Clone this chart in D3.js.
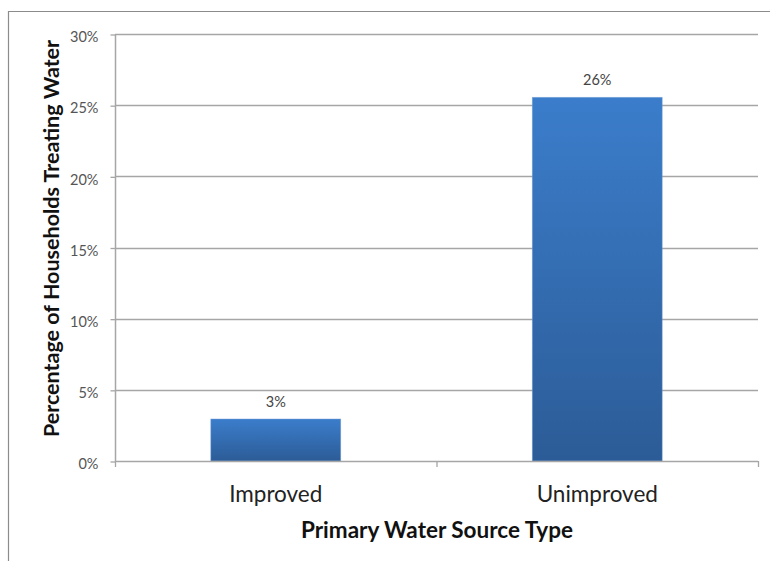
<!DOCTYPE html>
<html>
<head>
<meta charset="utf-8">
<script src="https://cdn.jsdelivr.net/npm/d3@7"></script>
<style>
  html, body { margin: 0; padding: 0; background: #fff; }
  svg { display: block; }
  text { font-family: Lato, "Open Sans", sans-serif; }
</style>
</head>
<body>
<svg id="chart" width="770" height="561"></svg>
<script>
// Share of households treating their drinking water, by source type
const categories = ["Improved", "Unimproved"];
const values = [0.0295, 0.2555];
const yTicks = [0, 0.05, 0.10, 0.15, 0.20, 0.25, 0.30];

const svg = d3.select("#chart");
const W = 770, H = 561;
const plot = { left: 115, right: 758, top: 34, bottom: 461 };

// outer chart frame (left and top edges visible)
svg.append("path")
  .attr("d", `M8.5,${H} V11.5 H${W}`)
  .attr("fill", "none").attr("stroke", "#8c8c8c").attr("stroke-width", 1.2);

const x = d3.scaleBand().domain(categories).range([plot.left, plot.right]).padding(0);
const y = d3.scaleLinear().domain([0, 0.30]).range([plot.bottom, plot.top]);

const defs = svg.append("defs");
const grad = defs.append("linearGradient").attr("id", "barFill")
  .attr("x1", 0).attr("y1", 0).attr("x2", 0).attr("y2", 1);
grad.append("stop").attr("offset", "0%").attr("stop-color", "#3b7dcb");
grad.append("stop").attr("offset", "100%").attr("stop-color", "#2c5c97");

// horizontal gridlines
svg.append("g").selectAll("line").data(yTicks.slice(1)).join("line")
  .attr("x1", plot.left).attr("x2", plot.right)
  .attr("y1", d => Math.round(y(d)) + 0.5).attr("y2", d => Math.round(y(d)) + 0.5)
  .attr("stroke", "#a6a6a6").attr("stroke-width", 1.3);

// y axis
const yAxis = d3.axisLeft(y).tickValues(yTicks).tickFormat(d3.format(".0%")).tickSize(5).tickPadding(12);
const gy = svg.append("g").attr("transform", `translate(${plot.left + 0.5},0.5)`).call(yAxis);
gy.select(".domain").attr("stroke", "#a6a6a6").attr("stroke-width", 1.5).attr("d", `M0,${plot.top}V${plot.bottom}`);
gy.selectAll(".tick line").attr("stroke", "#a6a6a6").attr("stroke-width", 1.3);
gy.selectAll(".tick text").attr("fill", "#555").style("font-size", "14.5px").attr("dy", "0.5em");

// bars
const barW = x.bandwidth() * 0.404;
svg.append("g").selectAll("rect").data(values).join("rect")
  .attr("x", (d, i) => x(categories[i]) + (x.bandwidth() - barW) / 2)
  .attr("width", barW)
  .attr("y", d => y(d))
  .attr("height", d => y(0) - y(d))
  .attr("fill", "url(#barFill)")
  .attr("stroke", "#6f9bd3").attr("stroke-width", 0.8).attr("stroke-opacity", 0.6);

// value labels
const pct = d3.format(".0%");
svg.append("g").selectAll("text").data(values).join("text")
  .attr("x", (d, i) => x(categories[i]) + x.bandwidth() / 2)
  .attr("y", d => y(d) - 12)
  .attr("text-anchor", "middle")
  .attr("fill", "#444").style("font-size", "14.5px")
  .text(d => pct(d));

// x axis with category-boundary ticks
const bounds = [plot.left, ...categories.map(c => x(c) + x.bandwidth())];
const gx = svg.append("g");
gx.append("line").attr("x1", plot.left).attr("x2", plot.right)
  .attr("y1", plot.bottom + 0.5).attr("y2", plot.bottom + 0.5)
  .attr("stroke", "#a6a6a6").attr("stroke-width", 1.5);
gx.selectAll("line.tk").data(bounds).join("line").attr("class", "tk")
  .attr("x1", d => d + 0.5).attr("x2", d => d + 0.5)
  .attr("y1", plot.bottom).attr("y2", plot.bottom + 6)
  .attr("stroke", "#a6a6a6").attr("stroke-width", 1.3);
gx.selectAll("text").data(categories).join("text")
  .attr("x", d => x(d) + x.bandwidth() / 2)
  .attr("y", 502)
  .attr("text-anchor", "middle")
  .attr("fill", "#222").style("font-size", "22.5px")
  .text(d => d);

// axis titles
svg.append("text")
  .attr("x", (plot.left + plot.right) / 2 + 0.5).attr("y", 538)
  .attr("text-anchor", "middle").attr("fill", "#111")
  .style("font-size", "22.5px").style("font-weight", "bold")
  .text("Primary Water Source Type");

svg.append("text")
  .attr("transform", `translate(59,238.5) rotate(-90)`)
  .attr("text-anchor", "middle").attr("fill", "#111")
  .style("font-size", "21.5px").style("font-weight", "bold")
  .text("Percentage of Households Treating Water");
</script>
</body>
</html>
